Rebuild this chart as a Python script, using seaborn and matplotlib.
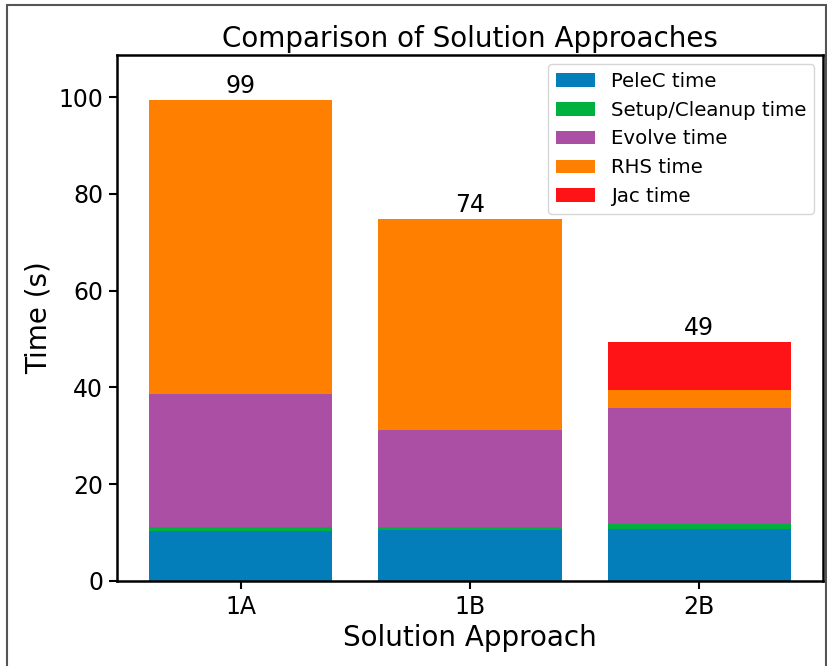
import matplotlib
matplotlib.use("Agg")
import matplotlib.pyplot as plt
import seaborn as sns
import numpy as np
from matplotlib.patches import Rectangle

# values (seconds)
approaches = ["1A", "1B", "2B"]
pelec_time = [10.4, 10.6, 10.8]
setup_time = [0.8, 0.6, 1.0]
evolve_time = [27.5, 20.0, 24.0]
rhs_time = [60.6, 43.6, 3.7]
jac_time = [0.0, 0.0, 9.9]

layers = [
    ("PeleC time", pelec_time, "#037ebb"),
    ("Setup/Cleanup time", setup_time, "#00b13f"),
    ("Evolve time", evolve_time, "#aa4fa4"),
    ("RHS time", rhs_time, "#ff7f00"),
    ("Jac time", jac_time, "#fe1417"),
]

plt.rcParams["font.family"] = ["DejaVu Sans"]
fig = plt.figure(figsize=(8.28, 6.66), dpi=100)
ax = fig.add_axes([117 / 828, 85 / 666, 706 / 828, 526 / 666])

bottom = np.zeros(len(approaches))
for label, vals, col in layers:
    sns.barplot(x=approaches, y=vals, bottom=bottom, color=col, saturation=1,
                width=0.8, linewidth=0, label=label, ax=ax)
    bottom = bottom + np.array(vals)

# total labels above each bar
for i, tot in enumerate(bottom):
    ax.text(i, tot + 0.5, f"{int(tot)}", ha="center", va="bottom", fontsize=17)

ax.set_xlim(-0.54, 2.54)
ax.set_ylim(0, 108.7)
ax.set_title("Comparison of Solution Approaches", fontsize=20)
ax.set_xlabel("Solution Approach", fontsize=20)
ax.set_ylabel("Time (s)", fontsize=20)
ax.tick_params(labelsize=17, width=1.5, length=6, pad=4)
for s in ax.spines.values():
    s.set_linewidth(1.8)
    s.set_color("black")

ax.legend(loc="upper right", fontsize=14.2, handlelength=2.0, borderaxespad=0.45)

# outer grey frame seen in the reference
fig.patches.append(Rectangle((7 / 828, -0.1), 819 / 828, 1.0925,
                             transform=fig.transFigure, fill=False,
                             edgecolor="#555555", linewidth=1.5, clip_on=False))

fig.savefig("out.png", dpi=100)
